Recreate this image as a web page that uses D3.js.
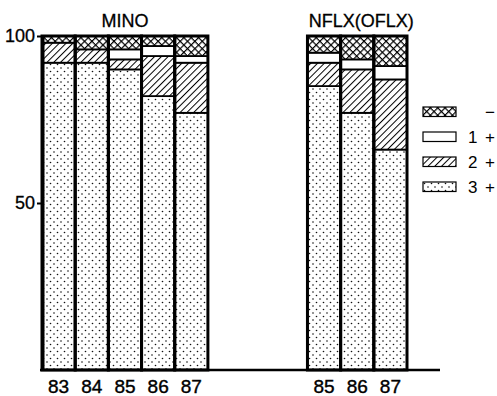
<!DOCTYPE html>
<html>
<head>
<meta charset="utf-8">
<script src="https://cdn.jsdelivr.net/npm/d3@7"></script>
<style>
  html, body { margin: 0; padding: 0; background: #fff; }
  svg { display: block; font-family: "Liberation Sans", Arial, sans-serif; }
</style>
</head>
<body>
<svg id="chart" width="497" height="396"></svg>
<script>
// Susceptibility grades per year, two drugs (percent of isolates, stacked to 100)
const groups = ["MINO", "NFLX(OFLX)"];
const minoYears = ["83", "84", "85", "86", "87"];
const nflxYears = ["85", "86", "87"];
const grades = ["3 +", "2 +", "1 +", "−"];

const mino3 = [92, 92, 90, 82, 77];
const mino2 = [6, 4, 3, 12, 15];
const mino1 = [0, 0, 3, 3, 2];
const minoNeg = [2, 4, 4, 3, 6];

const nflx3 = [85, 77, 66];
const nflx2 = [7, 13, 21];
const nflx1 = [3, 3, 4];
const nflxNeg = [5, 7, 9];

const yTicks = [50, 100];

// Build rows for stacking
const rows = [];
minoYears.forEach((yr, i) => rows.push({ key: "MINO " + yr, group: groups[0], year: yr,
  "3 +": mino3[i], "2 +": mino2[i], "1 +": mino1[i], "−": minoNeg[i] }));
const gaps = ["gap1", "gap2", "gap3"];
nflxYears.forEach((yr, i) => rows.push({ key: "NFLX " + yr, group: groups[1], year: yr,
  "3 +": nflx3[i], "2 +": nflx2[i], "1 +": nflx1[i], "−": nflxNeg[i] }));

const domainKeys = [...rows.slice(0, 5).map(d => d.key), ...gaps, ...rows.slice(5).map(d => d.key)];

const svg = d3.select("#chart");
const plotLeft = 42, plotRight = 407, plotTop = 36, plotBottom = 370;

const x = d3.scaleBand().domain(domainKeys).range([plotLeft, plotRight]).padding(0);
const y = d3.scaleLinear().domain([0, 100]).range([plotBottom, plotTop]);

// Fill patterns
const defs = svg.append("defs");
const dots = defs.append("pattern").attr("id", "p-dots").attr("patternUnits", "userSpaceOnUse")
  .attr("width", 7).attr("height", 7);
dots.append("rect").attr("width", 7).attr("height", 7).attr("fill", "#fff");
dots.append("circle").attr("cx", 1.5).attr("cy", 1.5).attr("r", 0.8).attr("fill", "#111");
dots.append("circle").attr("cx", 5).attr("cy", 5).attr("r", 0.8).attr("fill", "#111");

const hatch = defs.append("pattern").attr("id", "p-hatch").attr("patternUnits", "userSpaceOnUse")
  .attr("width", 4.8).attr("height", 4.8).attr("patternTransform", "rotate(45)");
hatch.append("rect").attr("width", 4.8).attr("height", 4.8).attr("fill", "#fff");
hatch.append("line").attr("x1", 0).attr("y1", 0).attr("x2", 0).attr("y2", 4.8)
  .attr("stroke", "#000").attr("stroke-width", 2);

const cross = defs.append("pattern").attr("id", "p-cross").attr("patternUnits", "userSpaceOnUse")
  .attr("width", 5.2).attr("height", 5.2).attr("patternTransform", "rotate(45)");
cross.append("rect").attr("width", 5.2).attr("height", 5.2).attr("fill", "#fff");
cross.append("line").attr("x1", 0).attr("y1", 0).attr("x2", 0).attr("y2", 5.2)
  .attr("stroke", "#000").attr("stroke-width", 2.4);
cross.append("line").attr("x1", 0).attr("y1", 0).attr("x2", 5.2).attr("y2", 0)
  .attr("stroke", "#000").attr("stroke-width", 2.4);

const fills = { "3 +": "url(#p-dots)", "2 +": "url(#p-hatch)", "1 +": "#fff", "−": "url(#p-cross)" };

// Stacked bars
const series = d3.stack().keys(grades)(rows);
svg.append("g").selectAll("g").data(series).join("g")
  .attr("fill", s => fills[s.key])
  .selectAll("rect").data(s => s.filter(d => d[1] - d[0] > 0)).join("rect")
    .attr("x", d => x(d.data.key))
    .attr("width", x.bandwidth())
    .attr("y", d => y(d[1]))
    .attr("height", d => y(d[0]) - y(d[1]))
    .attr("stroke", "#000").attr("stroke-width", 1.8);

// Heavy bar outlines
svg.append("g").selectAll("rect").data(rows).join("rect")
  .attr("x", d => x(d.key)).attr("width", x.bandwidth())
  .attr("y", y(100)).attr("height", y(0) - y(100))
  .attr("fill", "none").attr("stroke", "#000").attr("stroke-width", 3);

// Y axis
const yAxis = svg.append("g").attr("transform", `translate(${plotLeft + 1},0)`)
  .call(d3.axisLeft(y).tickValues(yTicks).tickSize(6).tickSizeOuter(0).tickPadding(2));
yAxis.select(".domain").attr("stroke", "#000").attr("stroke-width", 2);
yAxis.selectAll(".tick line").attr("stroke", "#000").attr("stroke-width", 2);
yAxis.selectAll(".tick text").attr("font-size", 18).attr("fill", "#000")
  .attr("stroke", "#000").attr("stroke-width", 0.3)
  .attr("font-family", "Liberation Sans, Arial, sans-serif");

// Baseline
svg.append("line")
  .attr("x1", plotLeft - 2).attr("x2", plotRight + 33)
  .attr("y1", y(0)).attr("y2", y(0))
  .attr("stroke", "#000").attr("stroke-width", 2.5);

// Year labels
const xAxis = svg.append("g").attr("transform", `translate(0,${y(0)})`)
  .call(d3.axisBottom(x).tickValues(rows.map(d => d.key)).tickSize(0)
    .tickFormat(k => rows.find(r => r.key === k).year));
xAxis.select(".domain").remove();
xAxis.selectAll(".tick text")
  .attr("font-size", 19).attr("fill", "#000").attr("y", 23).attr("dy", 0)
  .attr("stroke", "#000").attr("stroke-width", 0.4)
  .attr("font-family", "'Liberation Sans Narrow', 'Arial Narrow', sans-serif");

// Group titles
const groupKeys = [rows.slice(0, 5).map(d => d.key), rows.slice(5).map(d => d.key)];
svg.append("g").selectAll("text").data(groups).join("text")
  .attr("x", (g, i) => {
    const ks = groupKeys[i];
    return (x(ks[0]) + x(ks[ks.length - 1]) + x.bandwidth()) / 2 + (i === 1 ? 4 : 0);
  })
  .attr("y", 27)
  .attr("text-anchor", "middle").attr("font-size", 18).attr("fill", "#000")
  .attr("stroke", "#000").attr("stroke-width", 0.3)
  .text(g => g);

// Legend
const legendOrder = ["−", "1 +", "2 +", "3 +"];
const lg = svg.append("g").attr("transform", "translate(423,107)");
const item = lg.selectAll("g").data(legendOrder).join("g")
  .attr("transform", (d, i) => `translate(0,${i * 25})`);
item.append("rect").attr("width", 33).attr("height", 9.5)
  .attr("fill", d => fills[d]).attr("stroke", "#000").attr("stroke-width", 1.2);
item.append("text").attr("x", 72).attr("y", 11).attr("text-anchor", "end")
  .attr("font-size", 17).attr("fill", "#000").attr("word-spacing", 3)
  .text(d => d);
</script>
</body>
</html>
